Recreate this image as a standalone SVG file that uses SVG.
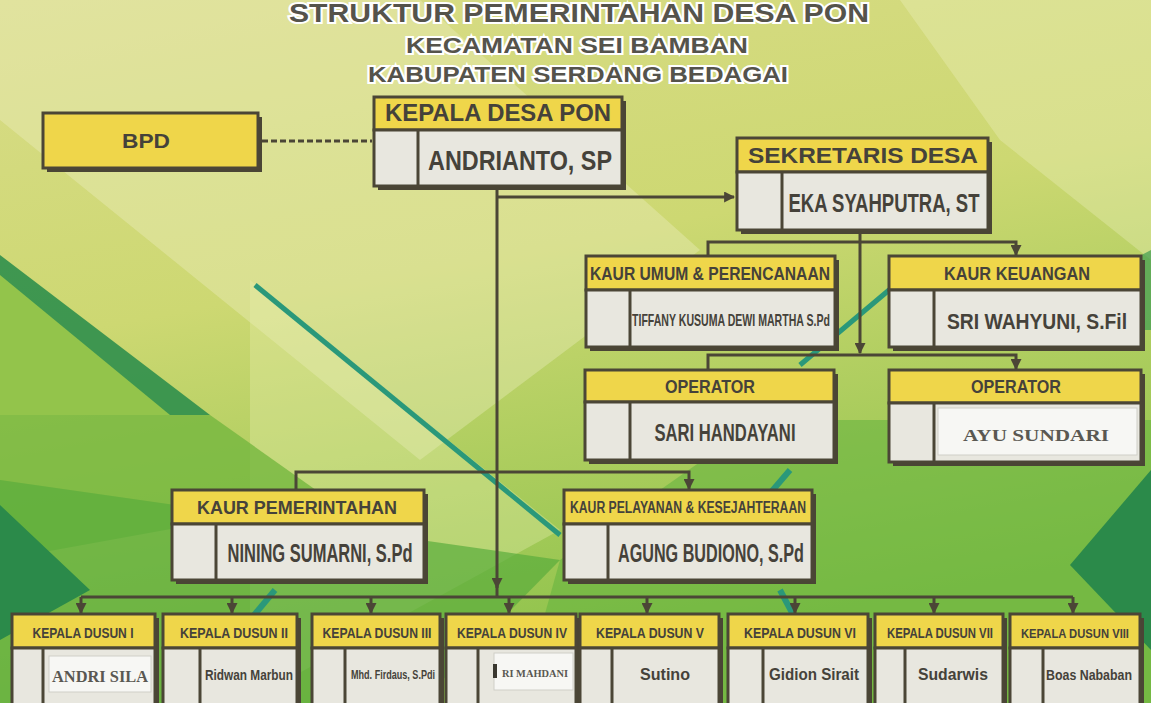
<svg xmlns="http://www.w3.org/2000/svg" width="1151" height="703" viewBox="0 0 1151 703">
<defs>
<linearGradient id="bg" x1="0" y1="0" x2="0.3" y2="1">
<stop offset="0" stop-color="#d9dc88"/>
<stop offset="0.45" stop-color="#cdd872"/>
<stop offset="1" stop-color="#8cc24a"/>
</linearGradient>
<marker id="arr" viewBox="0 0 10 10" refX="9" refY="5" markerWidth="11" markerHeight="11" markerUnits="userSpaceOnUse" orient="auto">
<path d="M0,0 L10,5 L0,10 z" fill="#4b4636"/>
</marker>
<style>
.hdr{fill:#efd64a;stroke:#4b4636;stroke-width:3}
.body{fill:#e8e7df;stroke:#4b4636;stroke-width:3}
.sh{fill:#4a4535}
.div{stroke:#4b4636;stroke-width:3}
.t{font-family:"Liberation Sans","DejaVu Sans",sans-serif;font-weight:bold;fill:#45423a;text-anchor:middle}
.s{font-family:"Liberation Serif","DejaVu Serif",serif;font-weight:bold;fill:#5a5852;text-anchor:middle}
.paste{fill:#f7f7f4;stroke:#cfcfc8;stroke-width:1}
.title{font-family:"Liberation Sans","DejaVu Sans",sans-serif;font-weight:bold;fill:#55534b;stroke:#ffffff;stroke-width:4;paint-order:stroke;text-anchor:middle}
.conn{stroke:#4b4636;stroke-width:3;fill:none}
</style>
</defs>
<g id="background">
<rect x="0" y="0" width="1151" height="703" fill="url(#bg)"/>
<polygon points="0,0 420,0 700,250 420,460 0,120" fill="#f2f0c8" opacity="0.35"/>
<polygon points="900,0 1151,0 1151,260 1000,140" fill="#eef0c0" opacity="0.35"/>
<polygon points="250,280 560,530 250,700" fill="#e7efb0" opacity="0.35"/>
<polygon points="0,255 210,415 0,415" fill="#2f8f4c" opacity="0.9"/>
<polygon points="0,275 170,415 0,415" fill="#9cc94a" opacity="0.9"/>
<polygon points="0,415 210,415 330,500 0,560" fill="#74b63e" opacity="0.8"/>
<polygon points="0,480 0,703 420,703 560,560" fill="#5aad3c" opacity="0.7"/>
<polygon points="0,505 90,590 0,640" fill="#2b8a4a"/>
<polygon points="560,560 760,420 1151,420 1151,703 520,703" fill="#63b33e" opacity="0.55"/>
<polygon points="1151,470 1070,565 1151,650" fill="#2b8a4a"/>
<polygon points="1000,330 1151,250 1151,330" fill="#3e9c52" opacity="0.7"/>
<line x1="255" y1="285" x2="560" y2="535" stroke="#2a987a" stroke-width="5"/>
<line x1="800" y1="365" x2="895" y2="285" stroke="#2a987a" stroke-width="5"/>
<line x1="700" y1="575" x2="790" y2="470" stroke="#2a987a" stroke-width="6"/>
<line x1="780" y1="590" x2="840" y2="703" stroke="#2a987a" stroke-width="6"/>
<line x1="275" y1="590" x2="250" y2="620" stroke="#2a987a" stroke-width="6"/>
</g>
<g id="title">
<text class="title" x="579" y="22" font-size="26" textLength="580" lengthAdjust="spacingAndGlyphs">STRUKTUR PEMERINTAHAN DESA PON</text>
<text class="title" x="577" y="53" font-size="22" textLength="342" lengthAdjust="spacingAndGlyphs">KECAMATAN SEI BAMBAN</text>
<text class="title" x="578" y="82" font-size="22" textLength="420" lengthAdjust="spacingAndGlyphs">KABUPATEN SERDANG BEDAGAI</text>
</g>
<g id="connectors">
<line class="conn" x1="262" y1="141" x2="372" y2="141" stroke-dasharray="6,3"/>
<line class="conn" x1="497" y1="188" x2="497" y2="588" marker-end="url(#arr)"/>
<line class="conn" x1="497" y1="586" x2="497" y2="597"/>
<line class="conn" x1="497" y1="197" x2="734" y2="197" marker-end="url(#arr)"/>
<line class="conn" x1="860" y1="233" x2="860" y2="353" marker-end="url(#arr)"/>
<polyline class="conn" points="708,255 708,242 1016,242 1016,255" marker-start="url(#arr)" marker-end="url(#arr)"/>
<polyline class="conn" points="708,369 708,355 1016,355 1016,369" marker-start="url(#arr)" marker-end="url(#arr)"/>
<polyline class="conn" points="296,489 296,472 689,472 689,489" marker-start="url(#arr)" marker-end="url(#arr)"/>
<line class="conn" x1="81" y1="597" x2="1073" y2="597"/>
<line class="conn" x1="81" y1="597" x2="81" y2="613" marker-end="url(#arr)"/>
<line class="conn" x1="232" y1="597" x2="232" y2="613" marker-end="url(#arr)"/>
<line class="conn" x1="371" y1="597" x2="371" y2="613" marker-end="url(#arr)"/>
<line class="conn" x1="509" y1="597" x2="509" y2="613" marker-end="url(#arr)"/>
<line class="conn" x1="647" y1="597" x2="647" y2="613" marker-end="url(#arr)"/>
<line class="conn" x1="795" y1="597" x2="795" y2="613" marker-end="url(#arr)"/>
<line class="conn" x1="934" y1="597" x2="934" y2="613" marker-end="url(#arr)"/>
<line class="conn" x1="1073" y1="597" x2="1073" y2="613" marker-end="url(#arr)"/>
</g>
<g id="bpd">
<rect class="sh" x="47" y="117" width="215" height="55"/>
<rect class="hdr" x="43" y="113" width="215" height="55"/>
<text class="t" x="146" y="148" font-size="21" textLength="48" lengthAdjust="spacingAndGlyphs">BPD</text>
</g>
<g id="kepala-desa">
<rect class="sh" x="378" y="101" width="248" height="89"/>
<rect class="hdr" x="374" y="97" width="248" height="33"/>
<rect class="body" x="374" y="130" width="248" height="56"/>
<line class="div" x1="418" y1="130" x2="418" y2="186"/>
<text class="t" x="498" y="121" font-size="23" textLength="226" lengthAdjust="spacingAndGlyphs">KEPALA DESA PON</text>
<text class="t" x="520" y="170" font-size="28" textLength="184" lengthAdjust="spacingAndGlyphs">ANDRIANTO, SP</text>
</g>
<g id="sekretaris">
<rect class="sh" x="741" y="142" width="251" height="92"/>
<rect class="hdr" x="737" y="138" width="251" height="34"/>
<rect class="body" x="737" y="172" width="251" height="58"/>
<line class="div" x1="782" y1="172" x2="782" y2="230"/>
<text class="t" x="863" y="163" font-size="22" textLength="230" lengthAdjust="spacingAndGlyphs">SEKRETARIS DESA</text>
<text class="t" x="884" y="212" font-size="25" textLength="191" lengthAdjust="spacingAndGlyphs">EKA SYAHPUTRA, ST</text>
</g>
<g id="kaur-umum">
<rect class="sh" x="590" y="260" width="249" height="91"/>
<rect class="hdr" x="586" y="256" width="249" height="34"/>
<rect class="body" x="586" y="290" width="249" height="57"/>
<line class="div" x1="630" y1="290" x2="630" y2="347"/>
<text class="t" x="710" y="280" font-size="18" textLength="240" lengthAdjust="spacingAndGlyphs">KAUR UMUM &amp; PERENCANAAN</text>
<text class="t" x="731" y="326" font-size="17" textLength="198" lengthAdjust="spacingAndGlyphs">TIFFANY KUSUMA DEWI MARTHA S.Pd</text>
</g>
<g id="kaur-keuangan">
<rect class="sh" x="893" y="260" width="252" height="91"/>
<rect class="hdr" x="889" y="256" width="252" height="34"/>
<rect class="body" x="889" y="290" width="252" height="57"/>
<line class="div" x1="934" y1="290" x2="934" y2="347"/>
<text class="t" x="1017" y="280" font-size="19" textLength="146" lengthAdjust="spacingAndGlyphs">KAUR KEUANGAN</text>
<text class="t" x="1037" y="329" font-size="22" textLength="180" lengthAdjust="spacingAndGlyphs">SRI WAHYUNI, S.Fil</text>
</g>
<g id="operator-1">
<rect class="sh" x="589" y="374" width="249" height="90"/>
<rect class="hdr" x="585" y="370" width="249" height="32"/>
<rect class="body" x="585" y="402" width="249" height="58"/>
<line class="div" x1="630" y1="402" x2="630" y2="460"/>
<text class="t" x="710" y="393" font-size="19" textLength="90" lengthAdjust="spacingAndGlyphs">OPERATOR</text>
<text class="t" x="725" y="441" font-size="23" textLength="141" lengthAdjust="spacingAndGlyphs">SARI HANDAYANI</text>
</g>
<g id="operator-2">
<rect class="sh" x="893" y="374" width="252" height="92"/>
<rect class="hdr" x="889" y="370" width="252" height="33"/>
<rect class="body" x="889" y="403" width="252" height="59"/>
<line class="div" x1="934" y1="403" x2="934" y2="462"/>
<rect class="paste" x="938" y="408" width="199" height="47"/>
<text class="t" x="1016" y="393" font-size="19" textLength="90" lengthAdjust="spacingAndGlyphs">OPERATOR</text>
<text class="s" x="1036" y="441" font-size="17" textLength="146" lengthAdjust="spacingAndGlyphs">AYU SUNDARI</text>
</g>
<g id="kaur-pemerintahan">
<rect class="sh" x="176" y="494" width="252" height="90"/>
<rect class="hdr" x="172" y="490" width="252" height="34"/>
<rect class="body" x="172" y="524" width="252" height="56"/>
<line class="div" x1="216" y1="524" x2="216" y2="580"/>
<text class="t" x="297" y="514" font-size="19" textLength="200" lengthAdjust="spacingAndGlyphs">KAUR PEMERINTAHAN</text>
<text class="t" x="320" y="562" font-size="25" textLength="185" lengthAdjust="spacingAndGlyphs">NINING SUMARNI, S.Pd</text>
</g>
<g id="kaur-pelayanan">
<rect class="sh" x="568" y="494" width="248" height="90"/>
<rect class="hdr" x="564" y="490" width="248" height="34"/>
<rect class="body" x="564" y="524" width="248" height="56"/>
<line class="div" x1="608" y1="524" x2="608" y2="580"/>
<text class="t" x="688" y="513" font-size="16" textLength="236" lengthAdjust="spacingAndGlyphs">KAUR PELAYANAN &amp; KESEJAHTERAAN</text>
<text class="t" x="711" y="562" font-size="25" textLength="186" lengthAdjust="spacingAndGlyphs">AGUNG BUDIONO, S.Pd</text>
</g>
<g id="dusun-1">
<rect class="sh" x="16" y="618" width="143" height="100"/>
<rect class="hdr" x="12" y="614" width="143" height="34"/>
<rect class="body" x="12" y="648" width="143" height="70"/>
<line class="div" x1="43" y1="648" x2="43" y2="703"/>
<rect class="paste" x="49" y="656" width="102" height="36"/>
<text class="t" x="83" y="638" font-size="15" textLength="101" lengthAdjust="spacingAndGlyphs">KEPALA DUSUN I</text>
<text class="s" x="100" y="682" font-size="16" textLength="96" lengthAdjust="spacingAndGlyphs">ANDRI SILA</text>
</g>
<g id="dusun-2">
<rect class="sh" x="167" y="618" width="134" height="100"/>
<rect class="hdr" x="163" y="614" width="134" height="34"/>
<rect class="body" x="163" y="648" width="134" height="70"/>
<line class="div" x1="200" y1="648" x2="200" y2="703"/>
<text class="t" x="234" y="638" font-size="15" textLength="108" lengthAdjust="spacingAndGlyphs">KEPALA DUSUN II</text>
<text class="t" x="249" y="680" font-size="15" textLength="88" lengthAdjust="spacingAndGlyphs">Ridwan Marbun</text>
</g>
<g id="dusun-3">
<rect class="sh" x="316" y="618" width="128" height="100"/>
<rect class="hdr" x="312" y="614" width="128" height="34"/>
<rect class="body" x="312" y="648" width="128" height="70"/>
<line class="div" x1="345" y1="648" x2="345" y2="703"/>
<text class="t" x="377" y="638" font-size="15" textLength="109" lengthAdjust="spacingAndGlyphs">KEPALA DUSUN III</text>
<text class="t" x="393" y="679" font-size="12" textLength="84" lengthAdjust="spacingAndGlyphs">Mhd. Firdaus, S.Pdi</text>
</g>
<g id="dusun-4">
<rect class="sh" x="450" y="618" width="130" height="100"/>
<rect class="hdr" x="446" y="614" width="130" height="34"/>
<rect class="body" x="446" y="648" width="130" height="70"/>
<line class="div" x1="478" y1="648" x2="478" y2="703"/>
<rect class="paste" x="494" y="653" width="79" height="37"/>
<rect x="493" y="664" width="4" height="14" fill="#3a3830"/>
<text class="t" x="512" y="638" font-size="15" textLength="110" lengthAdjust="spacingAndGlyphs">KEPALA DUSUN IV</text>
<text class="s" x="535" y="677" font-size="10" textLength="66" lengthAdjust="spacingAndGlyphs">RI MAHDANI</text>
</g>
<g id="dusun-5">
<rect class="sh" x="584" y="618" width="139" height="100"/>
<rect class="hdr" x="580" y="614" width="139" height="34"/>
<rect class="body" x="580" y="648" width="139" height="70"/>
<line class="div" x1="612" y1="648" x2="612" y2="703"/>
<text class="t" x="650" y="638" font-size="15" textLength="108" lengthAdjust="spacingAndGlyphs">KEPALA DUSUN V</text>
<text class="t" x="665" y="680" font-size="16" textLength="50" lengthAdjust="spacingAndGlyphs">Sutino</text>
</g>
<g id="dusun-6">
<rect class="sh" x="732" y="618" width="140" height="100"/>
<rect class="hdr" x="728" y="614" width="140" height="34"/>
<rect class="body" x="728" y="648" width="140" height="70"/>
<line class="div" x1="763" y1="648" x2="763" y2="703"/>
<text class="t" x="800" y="638" font-size="15" textLength="112" lengthAdjust="spacingAndGlyphs">KEPALA DUSUN VI</text>
<text class="t" x="814" y="680" font-size="16" textLength="90" lengthAdjust="spacingAndGlyphs">Gidion Sirait</text>
</g>
<g id="dusun-7">
<rect class="sh" x="879" y="618" width="128" height="100"/>
<rect class="hdr" x="875" y="614" width="128" height="34"/>
<rect class="body" x="875" y="648" width="128" height="70"/>
<line class="div" x1="905" y1="648" x2="905" y2="703"/>
<text class="t" x="940" y="638" font-size="15" textLength="106" lengthAdjust="spacingAndGlyphs">KEPALA DUSUN VII</text>
<text class="t" x="953" y="680" font-size="16" textLength="70" lengthAdjust="spacingAndGlyphs">Sudarwis</text>
</g>
<g id="dusun-8">
<rect class="sh" x="1014" y="618" width="130" height="100"/>
<rect class="hdr" x="1010" y="614" width="130" height="34"/>
<rect class="body" x="1010" y="648" width="130" height="70"/>
<line class="div" x1="1043" y1="648" x2="1043" y2="703"/>
<text class="t" x="1075" y="638" font-size="13.5" textLength="108" lengthAdjust="spacingAndGlyphs">KEPALA DUSUN VIII</text>
<text class="t" x="1089" y="680" font-size="15" textLength="86" lengthAdjust="spacingAndGlyphs">Boas Nababan</text>
</g>
</svg>
